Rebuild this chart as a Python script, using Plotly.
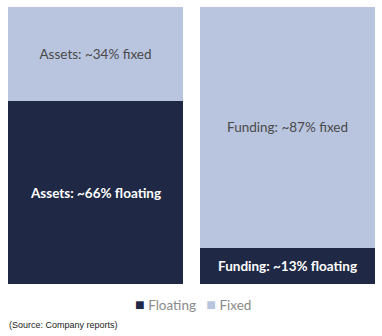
import plotly.graph_objects as go

categories = ["Assets", "Funding"]
floating = [66, 13]
fixed = [34, 87]
floating_labels = ["Assets: ~66% floating", "Funding: ~13% floating"]
fixed_labels = ["Assets: ~34% fixed", "Funding: ~87% fixed"]
legend_names = ["Floating", "Fixed"]
source_text = "(Source: Company reports)"

DARK = "#1f2945"
LIGHT = "#b9c4df"

fig = go.Figure()
fig.add_trace(go.Bar(
    x=categories, y=floating, name=legend_names[0], marker=dict(color=DARK, line=dict(width=0)),
    text=floating_labels, textposition="inside", insidetextanchor="middle", textangle=0,
    textfont=dict(color="white", size=13.5, family="Lato", weight="bold"),
    hoverinfo="skip", showlegend=False,
))
fig.add_trace(go.Bar(
    x=categories, y=fixed, name=legend_names[1], marker=dict(color=LIGHT, line=dict(width=0)),
    text=fixed_labels, textposition="inside", insidetextanchor="middle", textangle=0,
    textfont=dict(color="#4a4a4a", size=13.5, family="Lato"),
    hoverinfo="skip", showlegend=False,
))

legend_html = (
    f"<span style='color:{DARK};font-size:16px'>■</span> {legend_names[0]}   "
    f"<span style='color:{LIGHT};font-size:16px'>■</span> {legend_names[1]}"
)

fig.update_layout(
    width=382, height=336,
    margin=dict(l=8, r=7, t=7, b=52),
    barmode="stack", bargap=0.0885,
    paper_bgcolor="white", plot_bgcolor="white",
    showlegend=False,
    xaxis=dict(visible=False, range=[-0.4557, 1.4557]),
    yaxis=dict(visible=False, range=[0, 100]),
    annotations=[
        dict(text=legend_html, xref="paper", yref="paper", x=0.505, y=-0.069,
             xanchor="center", yanchor="middle", showarrow=False,
             font=dict(family="Lato", size=13.5, color="#8a8a8a")),
        dict(text=source_text, xref="paper", yref="paper", x=-0.003, y=-0.148,
             xanchor="left", yanchor="middle", showarrow=False,
             font=dict(family="Liberation Sans", size=9, color="#222222")),
    ],
)

fig.write_html("out.html")
